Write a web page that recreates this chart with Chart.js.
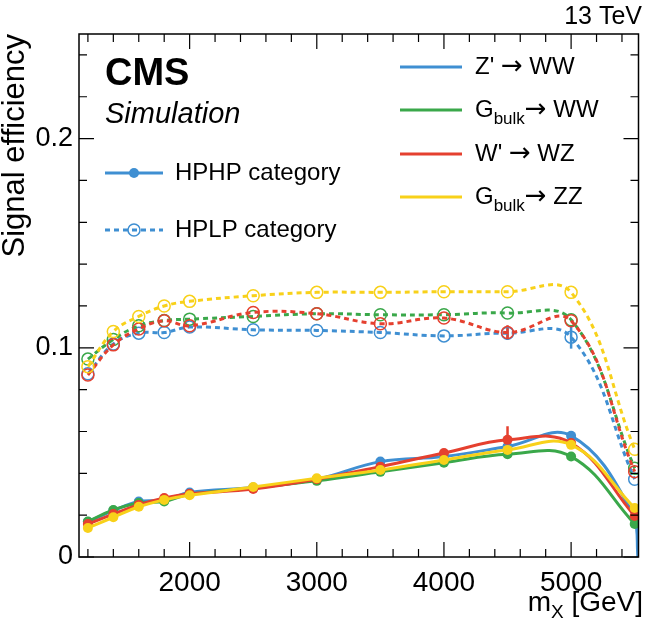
<!DOCTYPE html>
<html>
<head>
<meta charset="utf-8">
<script src="https://cdn.jsdelivr.net/npm/chart.js@4.4.1/dist/chart.umd.min.js"></script>
<style>
  body { margin: 0; background: #fff; }
  #wrap { width: 646px; height: 627px; }
</style>
</head>
<body>
<div id="wrap"><canvas id="effChart" width="646" height="627"></canvas></div>
<script>
// resonance masses (GeV)
var masses = [1200, 1400, 1600, 1800, 2000, 2500, 3000, 3500, 4000, 4500, 5000, 5500];

// HPHP category efficiencies
var zwwHPHP = [0.0168, 0.0222, 0.0265, 0.0272, 0.0308, 0.0332, 0.0372, 0.0456, 0.0480, 0.0528, 0.0579, 0.0190];
var gwwHPHP = [0.0170, 0.0225, 0.0258, 0.0265, 0.0300, 0.0330, 0.0364, 0.0407, 0.0451, 0.0491, 0.0480, 0.0158];
var wzHPHP  = [0.0158, 0.0205, 0.0249, 0.0282, 0.0302, 0.0325, 0.0372, 0.0432, 0.0497, 0.0560, 0.0545, 0.0196];
var gzzHPHP = [0.0139, 0.0190, 0.0240, 0.0273, 0.0295, 0.0335, 0.0376, 0.0416, 0.0464, 0.0512, 0.0536, 0.0234];

// HPLP category efficiencies
var zwwHPLP = [0.0876, 0.1018, 0.1070, 0.1073, 0.1099, 0.1086, 0.1083, 0.1073, 0.1057, 0.1070, 0.1051, 0.0372];
var gwwHPLP = [0.0946, 0.1040, 0.1105, 0.1130, 0.1137, 0.1150, 0.1163, 0.1158, 0.1158, 0.1166, 0.1134, 0.0424];
var wzHPLP  = [0.0870, 0.1014, 0.1090, 0.1129, 0.1105, 0.1169, 0.1163, 0.1115, 0.1142, 0.1073, 0.1129, 0.0408];
var gzzHPLP = [0.0910, 0.1078, 0.1150, 0.1200, 0.1222, 0.1249, 0.1265, 0.1265, 0.1268, 0.1268, 0.1265, 0.0515];

// visible stat. uncertainties (others are smaller than the markers)
var wzHPHPErr  = [0, 0, 0, 0, 0, 0, 0, 0, 0, 0.0065, 0, 0];
var zwwHPHPErr = [0, 0, 0, 0, 0, 0, 0, 0, 0, 0, 0.0015, 0];
var zwwHPLPErr = [0, 0, 0, 0, 0, 0, 0, 0, 0, 0.0030, 0.0055, 0];
var wzHPLPErr  = [0, 0, 0, 0, 0, 0, 0, 0, 0, 0.0035, 0, 0];

// Z' curve runs down to zero just past the last mass point
var zwwEndMass = 5525;
var zwwEndEff = 0;

var xTicks = [2000, 3000, 4000, 5000];
var yTicks = [0, 0.1, 0.2];

var BLUE = '#3f8fd2', GREEN = '#3aa84a', RED = '#e5402f', YELLOW = '#f8d11a';
var FONT = '"Liberation Sans", Arial, "DejaVu Sans", sans-serif';
var ARROW_FONT = '"DejaVu Sans", sans-serif';

function pts(vals, errs) {
    return vals.map(function (v, i) { return { x: masses[i], y: v, err: errs ? errs[i] : 0 }; });
}

function hphp(label, vals, color, order, errs) {
    return {
        label: label + ' HPHP', data: pts(vals, errs), borderColor: color, backgroundColor: color,
        borderWidth: 3, pointRadius: 5, pointBorderWidth: 0, tension: 0.4, order: order
    };
}
function hplp(label, vals, color, order, errs) {
    return {
        label: label + ' HPLP', data: pts(vals, errs), borderColor: color, backgroundColor: 'rgba(0,0,0,0)',
        borderWidth: 3, borderDash: [5, 4], pointRadius: 6, pointBorderWidth: 1.5, tension: 0.4, order: order + 4
    };
}

var zwwHP = hphp('Zprime', zwwHPHP, BLUE, 3, zwwHPHPErr);
zwwHP.data.push({ x: zwwEndMass, y: zwwEndEff, err: 0 });
zwwHP.pointRadius = masses.map(function () { return 5; }).concat([0]);

var datasets = [
    zwwHP,
    hphp('Gbulk WW', gwwHPHP, GREEN, 2),
    hphp('Wprime', wzHPHP, RED, 1, wzHPHPErr),
    hphp('Gbulk ZZ', gzzHPHP, YELLOW, 0),
    hplp('Zprime', zwwHPLP, BLUE, 3, zwwHPLPErr),
    hplp('Gbulk WW', gwwHPLP, GREEN, 2),
    hplp('Wprime', wzHPLP, RED, 1, wzHPLPErr),
    hplp('Gbulk ZZ', gzzHPLP, YELLOW, 0)
];

function textRuns(ctx, x, y, runs) {
    // runs: [text, size, dy, family]
    runs.forEach(function (r) {
        ctx.font = r[1] + 'px ' + (r[3] || FONT);
        ctx.fillText(r[0], x, y + (r[2] || 0));
        x += ctx.measureText(r[0]).width;
    });
}

var decorations = {
    id: 'decorations',
    beforeDatasetsDraw: function (chart) {
        var ctx = chart.ctx, xs = chart.scales.x, ys = chart.scales.y;
        ctx.save();
        chart.data.datasets.forEach(function (ds) {
            ctx.strokeStyle = ds.borderColor;
            ctx.lineWidth = 2.5;
            ds.data.forEach(function (p) {
                if (!p.err) return;
                var px = xs.getPixelForValue(p.x);
                ctx.beginPath();
                ctx.moveTo(px, ys.getPixelForValue(p.y - p.err));
                ctx.lineTo(px, ys.getPixelForValue(p.y + p.err));
                ctx.stroke();
            });
        });
        ctx.restore();
    },
    afterDraw: function (chart) {
        var ctx = chart.ctx, a = chart.chartArea, xs = chart.scales.x, ys = chart.scales.y;
        ctx.save();
        // frame
        ctx.strokeStyle = '#000';
        ctx.lineWidth = 1.5;
        ctx.strokeRect(a.left, a.top, a.right - a.left, a.bottom - a.top);
        // inward ticks on all four sides
        ctx.lineWidth = 1.2;
        for (var m = 1200; m <= 5400; m += 200) {
            var px = xs.getPixelForValue(m), len = (m % 1000 === 0) ? 15 : 8;
            ctx.beginPath();
            ctx.moveTo(px, a.bottom); ctx.lineTo(px, a.bottom - len);
            ctx.moveTo(px, a.top); ctx.lineTo(px, a.top + len);
            ctx.stroke();
        }
        for (var k = 0; k <= 12; k++) {
            var py = ys.getPixelForValue(k * 0.02), ylen = (k % 5 === 0) ? 15 : 8;
            ctx.beginPath();
            ctx.moveTo(a.left, py); ctx.lineTo(a.left + ylen, py);
            ctx.moveTo(a.right, py); ctx.lineTo(a.right - ylen, py);
            ctx.stroke();
        }

        ctx.fillStyle = '#000';
        ctx.textBaseline = 'alphabetic';
        // CMS label
        ctx.font = 'bold 38px ' + FONT;
        ctx.fillText('CMS', 105, 85);
        ctx.font = 'italic 29px ' + FONT;
        ctx.fillText('Simulation', 105, 123);
        // energy
        ctx.textAlign = 'right';
        ctx.font = '25px ' + FONT;
        ctx.fillText('13 TeV', 642, 24);
        ctx.textAlign = 'left';
        // x axis title with subscript
        ctx.font = '28px ' + FONT;
        var w1 = ctx.measureText('m').width, w3 = ctx.measureText(' [GeV]').width;
        ctx.font = '19px ' + FONT;
        var w2 = ctx.measureText('X').width;
        textRuns(ctx, 643 - w1 - w2 - w3, 611, [['m', 28], ['X', 19, 7], [' [GeV]', 28]]);

        // category legend
        ctx.strokeStyle = BLUE; ctx.fillStyle = BLUE; ctx.lineWidth = 3;
        ctx.beginPath(); ctx.moveTo(105, 173); ctx.lineTo(163, 173); ctx.stroke();
        ctx.beginPath(); ctx.arc(134, 173, 5, 0, Math.PI * 2); ctx.fill();
        ctx.setLineDash([5, 4]);
        ctx.beginPath(); ctx.moveTo(105, 230); ctx.lineTo(163, 230); ctx.stroke();
        ctx.setLineDash([]);
        ctx.lineWidth = 1.5;
        ctx.beginPath(); ctx.arc(134, 230, 6, 0, Math.PI * 2); ctx.stroke();
        ctx.fillStyle = '#000';
        ctx.textBaseline = 'middle';
        ctx.font = '24px ' + FONT;
        ctx.fillText('HPHP category', 175, 173);
        ctx.fillText('HPLP category', 175, 230);

        // signal legend
        var rows = [
            [BLUE, [["Z' ", 24], ['\u2192', 26, 0, ARROW_FONT], [' WW', 24]]],
            [GREEN, [['G', 24], ['bulk', 17, 9], ['\u2192', 26, 0, ARROW_FONT], [' WW', 24]]],
            [RED, [["W' ", 24], ['\u2192', 26, 0, ARROW_FONT], [' WZ', 24]]],
            [YELLOW, [['G', 24], ['bulk', 17, 9], ['\u2192', 26, 0, ARROW_FONT], [' ZZ', 24]]]
        ];
        var ry = [67, 110, 154, 197];
        rows.forEach(function (r, i) {
            ctx.strokeStyle = r[0]; ctx.lineWidth = 3;
            ctx.beginPath(); ctx.moveTo(400, ry[i]); ctx.lineTo(462, ry[i]); ctx.stroke();
            ctx.fillStyle = '#000';
            textRuns(ctx, 475, ry[i], r[1]);
        });
        ctx.restore();
    }
};

var ctxEff = document.getElementById('effChart').getContext('2d');
var effChart = new Chart(ctxEff, {
    type: 'line',
    data: { datasets: datasets },
    plugins: [decorations],
    options: {
        responsive: false,
        animation: false,
        layout: { padding: { top: 34, right: 3, left: 0, bottom: 0 } },
        plugins: { legend: { display: false }, tooltip: { enabled: false } },
        scales: {
            x: {
                type: 'linear', min: 1130, max: 5530,
                grid: { display: false, drawTicks: false },
                border: { display: false },
                afterBuildTicks: function (s) { s.ticks = xTicks.map(function (v) { return { value: v }; }); },
                afterFit: function (s) { s.height = 70; },
                ticks: {
                    padding: 9, color: '#000', font: { family: FONT, size: 28 }, maxRotation: 0,
                    callback: function (v) { return String(v); }
                }
            },
            y: {
                min: 0, max: 0.25,
                grid: { display: false, drawTicks: false },
                border: { display: false },
                afterBuildTicks: function (s) { s.ticks = yTicks.map(function (v) { return { value: v }; }); },
                afterFit: function (s) { s.width = 79; },
                ticks: {
                    padding: 6, color: '#000', font: { family: FONT, size: 27 },
                    callback: function (v) { return v === 0 ? '0' : v.toFixed(1); }
                },
                title: {
                    display: true, text: 'Signal efficiency', align: 'end', color: '#000',
                    font: { family: FONT, size: 31, lineHeight: 1.0 }, padding: { top: 0, bottom: 0 }
                }
            }
        }
    }
});
</script>
</body>
</html>
